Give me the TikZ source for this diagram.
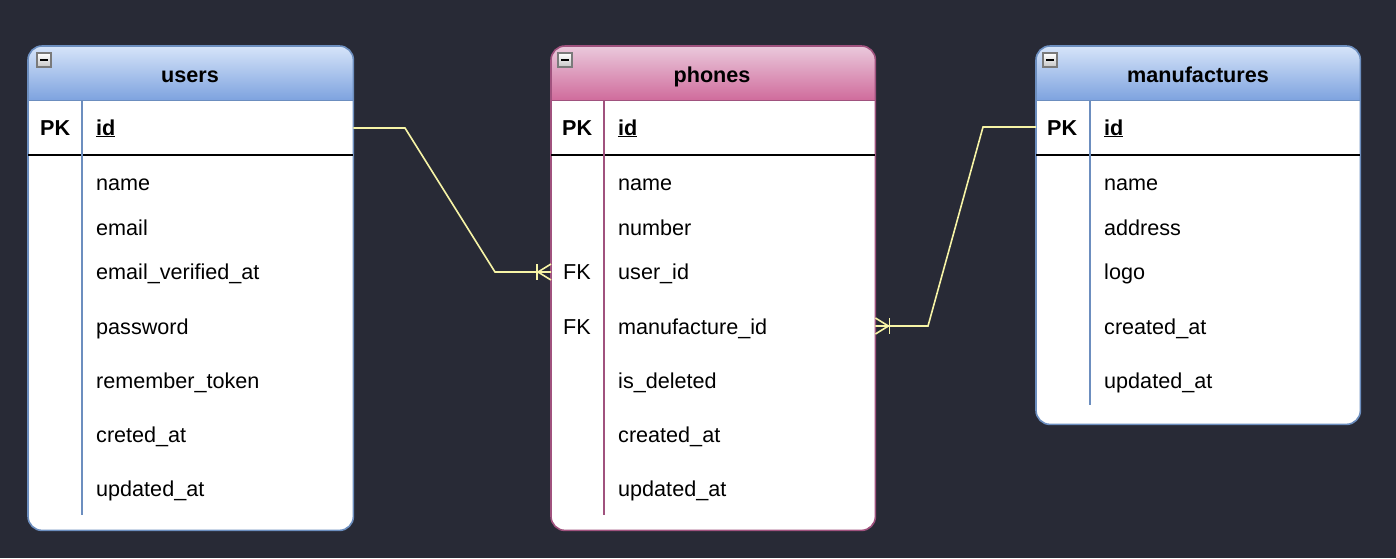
\documentclass[tikz,border=0pt]{standalone}
\usepackage{fontspec}
\setmainfont{Liberation Sans}
\definecolor{bgc}{HTML}{282A36}
\definecolor{bblue}{HTML}{6C8EBF}
\definecolor{bpink}{HTML}{A0527E}
\definecolor{btop}{HTML}{D6E4F9}
\definecolor{bbot}{HTML}{7EA3DF}
\definecolor{ptop}{HTML}{EAC9DC}
\definecolor{pbot}{HTML}{D06C9C}
\definecolor{linkc}{HTML}{F7F4A6}
\definecolor{icong}{HTML}{7A7A7A}
\begin{document}
\begin{tikzpicture}[x=1pt,y=-1pt,
  tablebox/.style={rectangle, rounded corners=14pt, fill=white, inner sep=0pt, anchor=north west},
  frame/.style={line width=1.6pt, rounded corners=14pt},
  lbl/.style={anchor=base west, inner sep=0pt, font=\fontsize{21.6}{26}\selectfont},
  keyl/.style={anchor=base west, inner sep=0pt, font=\fontsize{21.6}{26}\selectfont\bfseries},
  fkl/.style={anchor=base west, inner sep=0pt, font=\fontsize{21.6}{26}\selectfont},
  hdr/.style={anchor=base, inner sep=0pt, font=\fontsize{21.6}{26}\selectfont\bfseries},
  sepline/.style={line width=1.6pt, black},
  divline/.style={line width=1.2pt},
  link/.style={draw=linkc, line width=1.6pt},
  minusicon/.style={draw=icong, line width=1.3pt, top color=white, bottom color=gray!45}
]
\useasboundingbox[fill=bgc] (0,0) rectangle (1396,558);

% ---------------- users ----------------
\node[tablebox, minimum width=325pt, minimum height=484pt] (users) at (28,46) {};
\begin{scope}
  \clip[rounded corners=14pt] (users.north west) rectangle (users.south east);
  \shade[top color=btop, bottom color=bbot] (28,46) rectangle (353,100);
\end{scope}
\draw[bblue, line width=1pt] (28,100) -- (353,100);
\draw[frame, draw=bblue] (users.north west) rectangle (users.south east);
\node[hdr] (users-title) at (190,82) {users};
\draw[minusicon] (37,53) rectangle (51,67);
\draw[line width=1.8pt] (40,60) -- (48,60);
\draw[sepline] (28,155) -- (353,155);
\draw[divline, bblue] (82,100) -- (82,515);
\node[keyl] (u-pk) at (40,135) {PK};
\node[keyl] (u-id) at (96,135) {\underline{id}};
\node[lbl] (u-name) at (96,190) {name};
\node[lbl] (u-email) at (96,235) {email};
\node[lbl] (u-ev) at (96,279) {email\_verified\_at};
\node[lbl] (u-pw) at (96,334) {password};
\node[lbl] (u-rt) at (96,388) {remember\_token};
\node[lbl] (u-ca) at (96,442) {creted\_at};
\node[lbl] (u-ua) at (96,496) {updated\_at};

% ---------------- phones ----------------
\node[tablebox, minimum width=324pt, minimum height=484pt] (phones) at (551,46) {};
\begin{scope}
  \clip[rounded corners=14pt] (phones.north west) rectangle (phones.south east);
  \shade[top color=ptop, bottom color=pbot] (551,46) rectangle (875,100);
\end{scope}
\draw[bpink, line width=1pt] (551,100) -- (875,100);
\draw[frame, draw=bpink] (phones.north west) rectangle (phones.south east);
\node[hdr] (phones-title) at (712,82) {phones};
\draw[minusicon] (558,53) rectangle (572,67);
\draw[line width=1.8pt] (561,60) -- (569,60);
\draw[sepline] (551,155) -- (875,155);
\draw[divline, bpink] (604,100) -- (604,515);
\node[keyl] (p-pk) at (562,135) {PK};
\node[keyl] (p-id) at (618,135) {\underline{id}};
\node[lbl] (p-name) at (618,190) {name};
\node[lbl] (p-num) at (618,235) {number};
\node[fkl] (p-fk1) at (563,279) {FK};
\node[lbl] (p-uid) at (618,279) {user\_id};
\node[fkl] (p-fk2) at (563,334) {FK};
\node[lbl] (p-mid) at (618,334) {manufacture\_id};
\node[lbl] (p-del) at (618,388) {is\_deleted};
\node[lbl] (p-ca) at (618,442) {created\_at};
\node[lbl] (p-ua) at (618,496) {updated\_at};

% ---------------- manufactures ----------------
\node[tablebox, minimum width=324pt, minimum height=378pt] (manuf) at (1036,46) {};
\begin{scope}
  \clip[rounded corners=14pt] (manuf.north west) rectangle (manuf.south east);
  \shade[top color=btop, bottom color=bbot] (1036,46) rectangle (1360,100);
\end{scope}
\draw[bblue, line width=1pt] (1036,100) -- (1360,100);
\draw[frame, draw=bblue] (manuf.north west) rectangle (manuf.south east);
\node[hdr] (manuf-title) at (1198,82) {manufactures};
\draw[minusicon] (1043,53) rectangle (1057,67);
\draw[line width=1.8pt] (1046,60) -- (1054,60);
\draw[sepline] (1036,155) -- (1360,155);
\draw[divline, bblue] (1090,100) -- (1090,405);
\node[keyl] (m-pk) at (1047,135) {PK};
\node[keyl] (m-id) at (1104,135) {\underline{id}};
\node[lbl] (m-name) at (1104,190) {name};
\node[lbl] (m-addr) at (1104,235) {address};
\node[lbl] (m-logo) at (1104,279) {logo};
\node[lbl] (m-ca) at (1104,334) {created\_at};
\node[lbl] (m-ua) at (1104,388) {updated\_at};

% ---------------- connectors ----------------
\coordinate (l1a) at (users.east |- 0,128);
\coordinate (l1b) at (405,128);
\coordinate (l1c) at (495,272);
\coordinate (l1d) at (phones.west |- 0,272);
\draw[link] (l1a) -- (l1b) -- (l1c) -- (l1d);
\draw[link] (l1d) ++(-14,-8) -- ++(0,16);
\draw[link] (l1d) ++(-13,0) -- ++(13,-8);
\draw[link] (l1d) ++(-13,0) -- ++(13,8);

\coordinate (l2a) at (manuf.west |- 0,127);
\coordinate (l2b) at (983,127);
\coordinate (l2c) at (928,326);
\coordinate (l2d) at (phones.east |- 0,326);
\draw[link] (l2a) -- (l2b) -- (l2c) -- (l2d);
\draw[link] (l2d) ++(14,-8) -- ++(0,16);
\draw[link] (l2d) ++(13,0) -- ++(-13,-8);
\draw[link] (l2d) ++(13,0) -- ++(-13,8);
\end{tikzpicture}
\end{document}
